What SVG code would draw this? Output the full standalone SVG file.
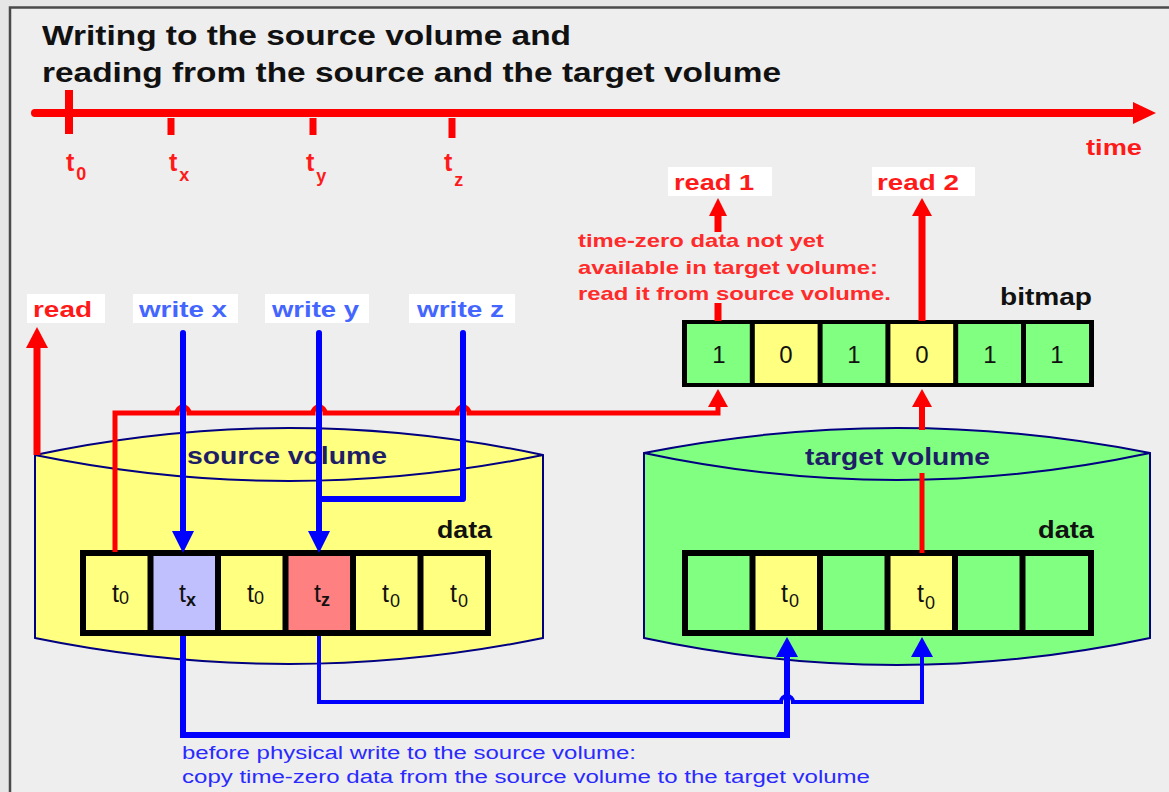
<svg xmlns="http://www.w3.org/2000/svg" width="1169" height="792" viewBox="0 0 1169 792">
<style>
text{font-family:"Liberation Sans",Arial,sans-serif}
.b{font-weight:bold}
.red{fill:#ff1a1a}
.lbl{fill:#4466ff;font-weight:bold;font-size:22px}
.box{fill:#ffffff}
.rl{stroke:#ff0000;fill:none}
.bl{stroke:#0000ff;fill:none}
.ra{fill:#ff0000}
.ba{fill:#0000ff}
.cyl{stroke:#000080;stroke-width:2}
.cell{font-size:25px;fill:#111}
.sub{font-size:18px}
.navy{fill:#1e1e66;font-weight:bold;font-size:23px}
</style>
<rect width="1169" height="792" fill="#e6e6e6"/>
<rect x="10" y="8" width="1159" height="784" fill="#eeeeee"/>
<path d="M10,792 V7.5 H1169" fill="none" stroke="#4a4a4a" stroke-width="2.5"/>

<g id="title">
<text class="b" x="42" y="45" font-size="28" fill="#111" textLength="529" lengthAdjust="spacingAndGlyphs">Writing to the source volume and</text>
<text class="b" x="42" y="82" font-size="28" fill="#111" textLength="739" lengthAdjust="spacingAndGlyphs">reading from the source and the target volume</text>
</g>

<g id="timeline">
<path d="M35,113 H1136" stroke="#ff0000" stroke-width="8" stroke-linecap="round" fill="none"/>
<polygon points="1133,102 1133,124 1156,113" fill="#ff0000"/>
<path d="M69,90 V134" stroke="#ff0000" stroke-width="8"/>
<path d="M171,118 V135 M313,118 V135" stroke="#ff0000" stroke-width="7"/>
<path d="M452,118 V138" stroke="#ff0000" stroke-width="7"/>
<g class="b red" font-size="25">
<text x="66" y="171">t<tspan class="sub" dx="2" dy="9">0</tspan></text>
<text x="169" y="171">t<tspan class="sub" dx="2" dy="10">x</tspan></text>
<text x="306" y="171">t<tspan class="sub" dx="2" dy="11">y</tspan></text>
<text x="444" y="171">t<tspan class="sub" dx="2" dy="15">z</tspan></text>
<text x="1086" y="155" font-size="22" textLength="56" lengthAdjust="spacingAndGlyphs">time</text>
</g>
</g>

<g id="source-volume">
<path class="cyl" d="M35,455 Q289,401 543,455 L543,638 Q289,690 35,638 Z" fill="#ffff80"/>
<path class="cyl" d="M35,455 Q289,507 543,455" fill="none"/>
<text class="navy" x="187" y="464" textLength="200" lengthAdjust="spacingAndGlyphs">source volume</text>
<text class="b" x="437" y="538" font-size="23" fill="#111" textLength="55" lengthAdjust="spacingAndGlyphs">data</text>
</g>

<g id="source-data">
<rect x="80" y="550" width="411" height="86" fill="#000"/>
<rect x="86" y="556" width="61.5" height="74" fill="#ffff80"/>
<rect x="153.5" y="556" width="61.5" height="74" fill="#c0c0ff"/>
<rect x="221" y="556" width="61.5" height="74" fill="#ffff80"/>
<rect x="288.5" y="556" width="61.5" height="74" fill="#ff8080"/>
<rect x="356" y="556" width="61.5" height="74" fill="#ffff80"/>
<rect x="423.5" y="556" width="61.5" height="74" fill="#ffff80"/>
<text class="cell" x="112" y="602">t<tspan class="sub" dy="2">0</tspan></text>
<text class="cell" x="179" y="602">t<tspan class="sub b" dy="4">x</tspan></text>
<text class="cell" x="247" y="602">t<tspan class="sub" dy="2">0</tspan></text>
<text class="cell" x="314" y="602">t<tspan class="sub b" dy="4">z</tspan></text>
<text class="cell" x="382" y="602">t<tspan class="sub" dx="1" dy="5">0</tspan></text>
<text class="cell" x="450" y="602">t<tspan class="sub" dx="1" dy="5">0</tspan></text>
</g>

<g id="target-volume">
<path class="cyl" d="M644,453 Q897,403 1150,453 L1150,638 Q897,692 644,638 Z" fill="#80ff80"/>
<path class="cyl" d="M644,453 Q897,507 1150,453" fill="none"/>
<text class="navy" x="805" y="465" textLength="185" lengthAdjust="spacingAndGlyphs">target volume</text>
<text class="b" x="1038" y="538" font-size="23" fill="#111" textLength="56" lengthAdjust="spacingAndGlyphs">data</text>
</g>

<g id="target-data">
<rect x="682" y="550" width="412" height="86" fill="#000"/>
<rect x="688" y="556" width="61.5" height="74" fill="#80ff80"/>
<rect x="755.5" y="556" width="61.5" height="74" fill="#ffff80"/>
<rect x="823" y="556" width="61.5" height="74" fill="#80ff80"/>
<rect x="890.5" y="556" width="61.5" height="74" fill="#ffff80"/>
<rect x="958" y="556" width="61.5" height="74" fill="#80ff80"/>
<rect x="1025.5" y="556" width="62.5" height="74" fill="#80ff80"/>
<text class="cell" x="781" y="602">t<tspan class="sub" dx="1" dy="5">0</tspan></text>
<text class="cell" x="917" y="602">t<tspan class="sub" dx="1" dy="7">0</tspan></text>
</g>

<g id="bitmap">
<rect x="682" y="320" width="412" height="67" fill="#000"/>
<rect x="687" y="324" width="62.8" height="59" fill="#80ff80"/>
<rect x="754.8" y="324" width="62.8" height="59" fill="#ffff80"/>
<rect x="822.6" y="324" width="62.8" height="59" fill="#80ff80"/>
<rect x="890.4" y="324" width="62.8" height="59" fill="#ffff80"/>
<rect x="958.2" y="324" width="62.8" height="59" fill="#80ff80"/>
<rect x="1026" y="324" width="63" height="59" fill="#80ff80"/>
<g font-size="24" fill="#111" text-anchor="middle">
<text x="719" y="363">1</text>
<text x="786" y="363">0</text>
<text x="854" y="363">1</text>
<text x="922" y="363">0</text>
<text x="990" y="363">1</text>
<text x="1057" y="363">1</text>
</g>
<text class="b" x="1000" y="305" font-size="23" fill="#111" textLength="92" lengthAdjust="spacingAndGlyphs">bitmap</text>
</g>

<g id="labels">
<rect class="box" x="27" y="294" width="78" height="29"/>
<text class="b red" x="33" y="317" font-size="22" textLength="59" lengthAdjust="spacingAndGlyphs">read</text>
<rect class="box" x="133" y="294" width="105" height="29"/>
<text class="lbl" x="139" y="317" textLength="88" lengthAdjust="spacingAndGlyphs">write x</text>
<rect class="box" x="265" y="294" width="104" height="29"/>
<text class="lbl" x="272" y="317" textLength="87" lengthAdjust="spacingAndGlyphs">write y</text>
<rect class="box" x="409" y="294" width="106" height="29"/>
<text class="lbl" x="417" y="317" textLength="87" lengthAdjust="spacingAndGlyphs">write z</text>
<rect class="box" x="668" y="167" width="104" height="29"/>
<text class="b red" x="674" y="190" font-size="22" textLength="80" lengthAdjust="spacingAndGlyphs">read 1</text>
<rect class="box" x="872" y="167" width="103" height="29"/>
<text class="b red" x="877" y="190" font-size="22" textLength="82" lengthAdjust="spacingAndGlyphs">read 2</text>
<g class="b" fill="#ff2a2a" font-size="19">
<text x="578" y="247" textLength="246" lengthAdjust="spacingAndGlyphs">time-zero data not yet</text>
<text x="578" y="274" textLength="300" lengthAdjust="spacingAndGlyphs">available in target volume:</text>
<text x="578" y="300" textLength="313" lengthAdjust="spacingAndGlyphs">read it from source volume.</text>
</g>
<g fill="#2a2aff" font-size="18">
<text x="182" y="759" textLength="454" lengthAdjust="spacingAndGlyphs">before physical write to the source volume:</text>
<text x="182" y="783" textLength="688" lengthAdjust="spacingAndGlyphs">copy time-zero data from the source volume to the target  volume</text>
</g>
</g>

<g id="connectors">
<path class="rl" stroke-width="5" d="M115,552 V413 H177 A6,6 0 0 1 189,413 H313 A6,6 0 0 1 325,413 H457 A6,6 0 0 1 469,413 H718 V405"/>
<polygon class="ra" points="708,407 728,407 718,389"/>
<path class="rl" stroke-width="5" d="M922,553 V473"/>
<path class="rl" stroke-width="6" d="M922,430 V405"/>
<polygon class="ra" points="912,407 932,407 922,389"/>
<path class="rl" stroke-width="7" d="M37,455 V345"/>
<polygon class="ra" points="26,348 48,348 37,327"/>
<path class="rl" stroke-width="7" d="M718,232 V214 M718,303 V321"/>
<polygon class="ra" points="709,216 727,216 718,198"/>
<path class="rl" stroke-width="7" d="M922,321 V214"/>
<polygon class="ra" points="912,216 932,216 922,198"/>

<path class="bl" stroke-width="6" stroke-linecap="round" d="M183,333 V532"/>
<polygon class="ba" points="172,531 194,531 183,553"/>
<path class="bl" stroke-width="6" stroke-linecap="round" d="M319,333 V532"/>
<polygon class="ba" points="308,531 330,531 319,553"/>
<path class="bl" stroke-width="6" stroke-linecap="round" stroke-linejoin="round" d="M463,333 V499 H319"/>

<path class="bl" stroke-width="6" d="M183,636 V735 H787 V656"/>
<polygon class="ba" points="776,657 798,657 787,637"/>
<path class="bl" stroke-width="4" d="M319,636 V702 H781 A6,6 0 0 1 793,702 H922 V656"/>
<polygon class="ba" points="911,657 933,657 922,637"/>
</g>
</svg>
